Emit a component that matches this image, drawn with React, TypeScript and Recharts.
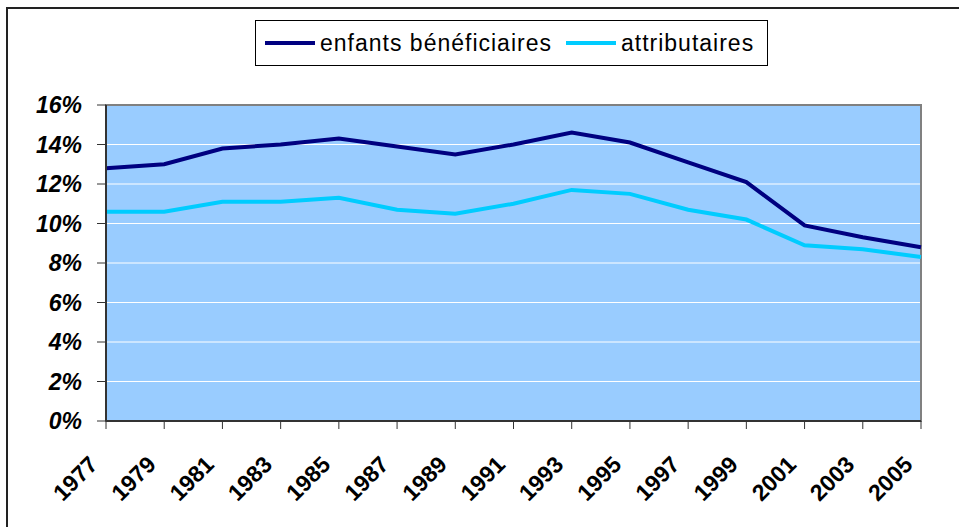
import React from 'react';
import {
  LineChart,
  Line,
  XAxis,
  YAxis,
  CartesianGrid,
  Legend,
  ReferenceArea,
} from 'recharts';

const years = [
  '1977', '1979', '1981', '1983', '1985', '1987', '1989', '1991',
  '1993', '1995', '1997', '1999', '2001', '2003', '2005',
];
const enfants = [12.8, 13.0, 13.8, 14.0, 14.3, 13.9, 13.5, 14.0, 14.6, 14.1, 13.1, 12.1, 9.9, 9.3, 8.8];
const attributaires = [10.6, 10.6, 11.1, 11.1, 11.3, 10.7, 10.5, 11.0, 11.7, 11.5, 10.7, 10.2, 8.9, 8.7, 8.3];
const yTicks = [0, 2, 4, 6, 8, 10, 12, 14, 16];
const seriesOrder = ['enfants bénéficiaires', 'attributaires'];

const FONT = '"Liberation Sans", Arial, sans-serif';

const data = years.map((year, i) => ({
  year,
  enfants: enfants[i],
  attributaires: attributaires[i],
}));

const XTick = (props: any) => {
  const { x, payload } = props;
  const ax = x - 7;
  const ay = 466;
  return (
    <text
      x={ax}
      y={ay}
      textAnchor="end"
      transform={`rotate(-45, ${ax}, ${ay})`}
      fontFamily={FONT}
      fontWeight="bold"
      fontSize={23}
      fill="#000"
    >
      {payload.value}
    </text>
  );
};

const LegendBox = (props: any) => {
  const payload = [...(props.payload || [])].sort(
    (a: any, b: any) => seriesOrder.indexOf(a.value) - seriesOrder.indexOf(b.value)
  );
  return (
    <div
      style={{
        boxSizing: 'border-box',
        width: 513,
        height: 46,
        border: '1px solid #000',
        background: '#fff',
        display: 'flex',
        alignItems: 'center',
        fontFamily: FONT,
        fontSize: 23,
        color: '#000',
        paddingLeft: 9,
      }}
    >
      {payload.map((p: any, i: number) => (
        <div key={p.value} style={{ display: 'flex', alignItems: 'center', marginLeft: i === 0 ? 0 : 14 }}>
          <span style={{ display: 'inline-block', width: 50, height: 4, background: p.color, marginRight: 5 }} />
          <span style={{ letterSpacing: 1, whiteSpace: 'nowrap' }}>{p.value}</span>
        </div>
      ))}
    </div>
  );
};

export default function App() {
  return (
    <div style={{ position: 'fixed', left: 0, top: 0, width: 959, height: 527, background: '#fff' }}>
      <div
        style={{
          position: 'absolute',
          left: 6,
          top: 7,
          right: 0,
          bottom: 0,
          borderLeft: '2px solid #222',
          borderTop: '2px solid #222',
        }}
      />
      <LineChart
        width={959}
        height={527}
        data={data}
        margin={{ top: 59, right: 38, left: 46, bottom: 26 }}
      >
        <CartesianGrid vertical={false} stroke="#ffffff" fill="#99CCFF" fillOpacity={1} />
        <ReferenceArea
          x1="1977"
          x2="2005"
          y1={0}
          y2={16}
          fill="none"
          fillOpacity={0}
          stroke="#808080"
          strokeWidth={2}
        />
        <XAxis
          dataKey="year"
          interval={0}
          height={80}
          tickSize={8}
          axisLine={{ stroke: '#333', strokeWidth: 2 }}
          tickLine={{ stroke: '#333' }}
          tick={<XTick />}
        />
        <YAxis
          domain={[0, 16]}
          ticks={yTicks}
          width={60}
          tickSize={9}
          tickMargin={15}
          axisLine={{ stroke: '#333', strokeWidth: 2 }}
          tickLine={{ stroke: '#333' }}
          tickFormatter={(v: number) => `${v}%`}
          tick={{ fill: '#000', fontFamily: FONT, fontWeight: 'bold', fontStyle: 'italic', fontSize: 23 }}
        />
        <Legend
          verticalAlign="top"
          wrapperStyle={{ top: 20, left: 255, width: 513, height: 46 }}
          content={<LegendBox />}
        />
        <Line
          type="linear"
          dataKey="enfants"
          name="enfants bénéficiaires"
          stroke="#000080"
          strokeWidth={4}
          dot={false}
          isAnimationActive={false}
        />
        <Line
          type="linear"
          dataKey="attributaires"
          name="attributaires"
          stroke="#00CCFF"
          strokeWidth={4}
          dot={false}
          isAnimationActive={false}
        />
      </LineChart>
    </div>
  );
}
